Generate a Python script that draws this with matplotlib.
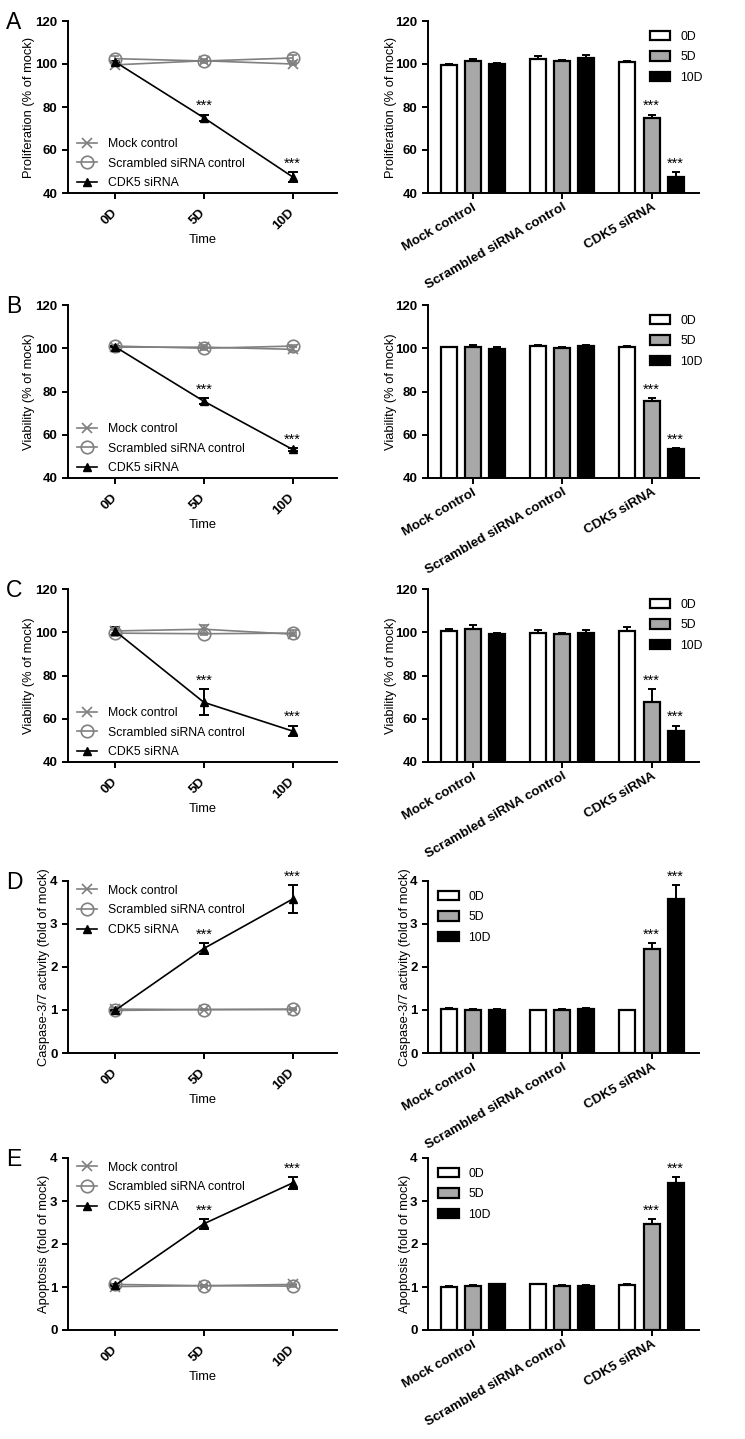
import matplotlib
matplotlib.use('Agg')
import matplotlib.pyplot as plt
from matplotlib.patches import Patch

plt.rcParams['font.family'] = ['Liberation Sans', 'DejaVu Sans']
plt.rcParams['font.weight'] = 'bold'

days = ['0D', '5D', '10D']
groups = ['Mock control', 'Scrambled siRNA control', 'CDK5 siRNA']

# A: proliferation (% of mock)
prolif_mock = [99.6, 101.5, 100.0]
prolif_mock_err = [0.3, 1.0, 0.3]
prolif_scr = [102.5, 101.4, 102.8]
prolif_scr_err = [1.0, 0.5, 1.5]
prolif_cdk5 = [101.0, 75.0, 47.5]
prolif_cdk5_err = [0.3, 1.5, 2.2]

# B: viability (% of mock)
viab_b_mock = [100.5, 100.5, 99.5]
viab_b_mock_err = [0.3, 0.8, 1.0]
viab_b_scr = [101.0, 100.0, 101.0]
viab_b_scr_err = [0.3, 0.6, 0.6]
viab_b_cdk5 = [100.7, 75.5, 53.2]
viab_b_cdk5_err = [0.3, 1.5, 0.8]

# C: viability (% of mock)
viab_c_mock = [100.6, 101.4, 99.1]
viab_c_mock_err = [1.0, 2.0, 0.6]
viab_c_scr = [99.6, 99.3, 99.6]
viab_c_scr_err = [1.5, 0.5, 1.5]
viab_c_cdk5 = [100.6, 67.6, 54.3]
viab_c_cdk5_err = [2.0, 6.0, 2.5]

# D: caspase-3/7 activity (fold of mock)
casp_mock = [1.02, 1.01, 1.01]
casp_mock_err = [0.02, 0.02, 0.02]
casp_scr = [0.99, 1.01, 1.02]
casp_scr_err = [0.02, 0.02, 0.02]
casp_cdk5 = [0.99, 2.43, 3.58]
casp_cdk5_err = [0.02, 0.13, 0.33]

# E: apoptosis (fold of mock)
apop_mock = [1.01, 1.03, 1.06]
apop_mock_err = [0.02, 0.02, 0.02]
apop_scr = [1.06, 1.03, 1.02]
apop_scr_err = [0.02, 0.02, 0.02]
apop_cdk5 = [1.04, 2.47, 3.42]
apop_cdk5_err = [0.02, 0.11, 0.13]

pct_ticks = [40, 60, 80, 100, 120]
fold_ticks = [0, 1, 2, 3, 4]

W, H = 745, 1439
fig = plt.figure(figsize=(W / 100, H / 100), dpi=100)

GREY = '#808080'
BAR_COLORS = ['white', '#a8a8a8', 'black']


def px_rect(l, t, r, b):
    return [l / W, 1 - b / H, (r - l) / W, (b - t) / H]


def style(ax):
    for s in ['top', 'right']:
        ax.spines[s].set_visible(False)
    for s in ['left', 'bottom']:
        ax.spines[s].set_linewidth(1.4)
    ax.tick_params(width=1.4, length=4, labelsize=9.5)


def stars(ax, x, y):
    ax.annotate('***', (x, y), xytext=(0, 1), textcoords='offset points',
                ha='center', va='bottom', fontsize=10.5, fontweight='normal')


def line_panel(ax, ylabel, mock, mock_err, scr, scr_err, cdk, cdk_err, yticks, leg_loc):
    x = list(range(len(days)))
    c1 = ax.errorbar(x, mock, yerr=mock_err, color=GREY, marker='x', ms=7.5, mew=1.2,
                     lw=1.2, capsize=3)
    c2 = ax.errorbar(x, scr, yerr=scr_err, color=GREY, marker='o', ms=9, mfc='none',
                     mew=1.2, lw=1.2, capsize=3)
    c3 = ax.errorbar(x, cdk, yerr=cdk_err, color='black', marker='^', ms=6,
                     lw=1.2, capsize=3.5, elinewidth=1.4, capthick=1.4)
    for i in [1, 2]:
        stars(ax, x[i], cdk[i] + cdk_err[i])
    ax.set_xlim(-0.53, 2.5)
    ax.set_ylim(yticks[0], yticks[-1])
    ax.set_yticks(yticks)
    ax.set_xticks(x)
    ax.set_xticklabels(days, rotation=45, ha='right', va='center', rotation_mode='anchor')
    ax.set_xlabel('Time', fontsize=9.3, labelpad=1)
    ax.set_ylabel(ylabel, fontsize=9.3, labelpad=0)
    style(ax)
    ax.tick_params(axis='x', pad=9)
    ax.legend([c1[0], c2[0], c3[0]], groups, loc=leg_loc, bbox_to_anchor=(0.02, 0.0, 1, 1),
              frameon=False, prop={'size': 8.8, 'weight': 'normal'},
              handlelength=1.6, handletextpad=0.9, labelspacing=0.62,
              borderaxespad=0.0, borderpad=0.3)


def bar_panel(ax, ylabel, mock, mock_err, scr, scr_err, cdk, cdk_err, yticks, leg_loc):
    offsets = [-0.27, 0.0, 0.27]
    for i, day in enumerate(days):
        vals = [mock[i], scr[i], cdk[i]]
        errs = [mock_err[i], scr_err[i], cdk_err[i]]
        xs = [g + offsets[i] for g in range(len(groups))]
        ax.bar(xs, vals, width=0.18, color=BAR_COLORS[i], edgecolor='black', linewidth=1.6,
               yerr=[[0] * len(errs), errs], capsize=3,
               error_kw=dict(elinewidth=1.4, capthick=1.4), zorder=2)
        if i > 0:
            stars(ax, xs[2], cdk[i] + cdk_err[i])
    ax.set_xlim(-0.5, 2.53)
    ax.set_ylim(yticks[0], yticks[-1])
    ax.set_yticks(yticks)
    ax.set_xticks(range(len(groups)))
    ax.set_xticklabels(groups, rotation=30, ha='right', va='top', rotation_mode='anchor')
    ax.set_ylabel(ylabel, fontsize=9.3, labelpad=-1)
    style(ax)
    ax.tick_params(axis='x', labelsize=9.6, pad=2)
    handles = [Patch(facecolor=c, edgecolor='black', linewidth=1.6) for c in BAR_COLORS]
    if leg_loc == 'upper right':
        anchor = (1.05, 1.0)
    else:
        anchor = (0.0, 1.0)
    ax.legend(handles, days, loc=leg_loc, bbox_to_anchor=anchor, frameon=False,
              prop={'size': 8.8, 'weight': 'normal'},
              handlelength=1.7, handleheight=0.8, handletextpad=0.8, labelspacing=0.7,
              borderaxespad=0.4, borderpad=0.4)


rows = [
    ('A', 21, 193, 'Proliferation (% of mock)', prolif_mock, prolif_mock_err, prolif_scr,
     prolif_scr_err, prolif_cdk5, prolif_cdk5_err, pct_ticks, 'lower left', 'upper right'),
    ('B', 305, 478, 'Viability (% of mock)', viab_b_mock, viab_b_mock_err, viab_b_scr,
     viab_b_scr_err, viab_b_cdk5, viab_b_cdk5_err, pct_ticks, 'lower left', 'upper right'),
    ('C', 589, 762, 'Viability (% of mock)', viab_c_mock, viab_c_mock_err, viab_c_scr,
     viab_c_scr_err, viab_c_cdk5, viab_c_cdk5_err, pct_ticks, 'lower left', 'upper right'),
    ('D', 881, 1053, 'Caspase-3/7 activity (fold of mock)', casp_mock, casp_mock_err, casp_scr,
     casp_scr_err, casp_cdk5, casp_cdk5_err, fold_ticks, 'upper left', 'upper left'),
    ('E', 1158, 1330, 'Apoptosis (fold of mock)', apop_mock, apop_mock_err, apop_scr,
     apop_scr_err, apop_cdk5, apop_cdk5_err, fold_ticks, 'upper left', 'upper left'),
]

for letter, top, bot, ylab, m, me, s, se, c, ce, yt, lloc, bloc in rows:
    ax1 = fig.add_axes(px_rect(68, top, 337, bot))
    line_panel(ax1, ylab, m, me, s, se, c, ce, yt, lloc)
    ax2 = fig.add_axes(px_rect(428, top, 699, bot))
    bar_panel(ax2, ylab, m, me, s, se, c, ce, yt, bloc)
    fig.text(6 / W, 1 - (top - 10) / H, letter, fontsize=16.5, fontweight='normal',
             ha='left', va='top')

fig.savefig('out.png', dpi=100)
